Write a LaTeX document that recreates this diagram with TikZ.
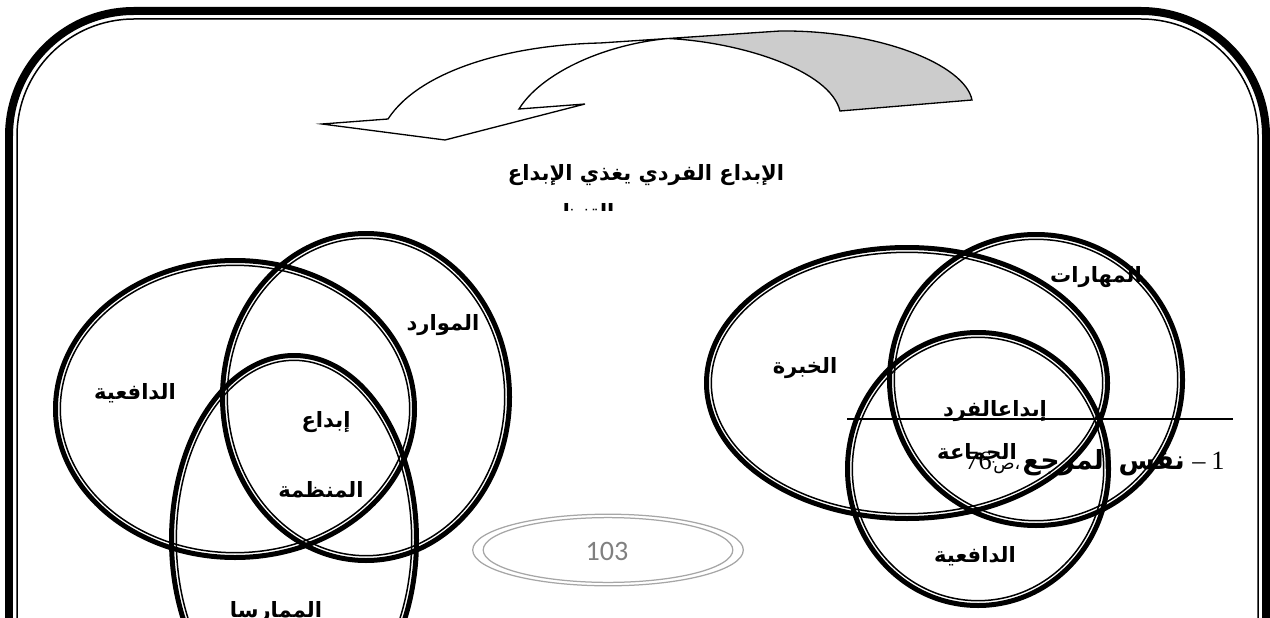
\documentclass[tikz,border=0pt]{standalone}
\usepackage{fontspec}
\setmainfont{Liberation Serif}
\newfontfamily\arabicfont[Script=Arabic]{DejaVu Sans}
\newfontfamily\pagefont{Carlito}
\TeXXeTstate=1
\usetikzlibrary{positioning}

\begin{document}
\begin{tikzpicture}[
    x=0.02cm, y=-0.02cm,
    framethick/.style={line width=0.16cm, rounded corners=2.5cm},
    framethin/.style={line width=0.03cm, rounded corners=2.34cm},
    ringthick/.style={line width=0.1cm},
    ringthin/.style={line width=0.03cm},
    pagering/.style={draw=black!35, line width=0.025cm},
    ribbon/.style={draw, line width=0.75pt, line join=miter},
    lbl/.style={font=\arabicfont\bfseries\fontsize{12}{14}\selectfont, inner sep=0pt}
]
    \useasboundingbox (0,0) rectangle (1270,618);
    \clip (0,0) rectangle (1270,618);

    % page frame
    \draw[framethick] (9,660) -- (9,11) -- (1266,11) -- (1266,660);
    \draw[framethin] (17,660) -- (17,19) -- (1258,19) -- (1258,660);

    % curved arrow
    \coordinate (peak) at (668,38.5);
    \draw[ribbon, fill=white] (peak) .. controls (600,45) and (540,75) .. (519,109)
        -- (585,104) -- (445,140) -- (322,124) -- (388,119)
        .. controls (420,70) and (510,45) .. (600,43) -- cycle;
    \draw[ribbon, fill=black!20] (peak) -- (780,31)
        .. controls (880,30) and (965,65) .. (972,100)
        -- (840,111) .. controls (830,70) and (740,42) .. (peak) -- cycle;

    \node[lbl] (title) at (646,175) {\beginR الإبداع الفردي يغذي الإبداع\endR};
    \begin{scope}
        \clip (520,200) rectangle (620,210.5);
        \node[lbl] (titletwo) at (566,214) {\beginR التنظيمي\endR};
    \end{scope}

    % left group
    \draw[ringthick] (235,409) ellipse [x radius=179.5, y radius=148.5];
    \draw[ringthin] (235,409) ellipse [x radius=174.7, y radius=143.7];
    \draw[ringthick] (366,397) ellipse [x radius=143.5, y radius=163.5];
    \draw[ringthin] (366,397) ellipse [x radius=138.7, y radius=158.7];
    \draw[ringthick] (294,540) ellipse [x radius=122.5, y radius=184.5];
    \draw[ringthin] (294,540) ellipse [x radius=117.7, y radius=179.7];

    \node[lbl] (motiv) at (135,393) {\beginR الدافعية\endR};
    \node[lbl] (resources) at (443,325) {\beginR الموارد\endR};
    \node[lbl] (orgtop) at (326,422) {\beginR إبداع\endR};
    \node[lbl] (orgbottom) at (321,490) {\beginR المنظمة\endR};
    \node[lbl] (practice) at (276,612) {\beginR الممارسا\endR};

    % right group
    \draw[ringthick] (907,383) ellipse [x radius=200.5, y radius=135.5];
    \draw[ringthin] (907,383) ellipse [x radius=195.7, y radius=130.7];
    \draw[ringthick] (1036,380) ellipse [x radius=146.5, y radius=145.5];
    \draw[ringthin] (1036,380) ellipse [x radius=141.7, y radius=140.7];
    \draw[ringthick] (978,469) ellipse [x radius=130.5, y radius=136.5];
    \draw[ringthin] (978,469) ellipse [x radius=125.7, y radius=131.7];

    \node[lbl] (skills) at (1096,277) {\beginR المهارات\endR};
    \node[lbl] (expert) at (805,368) {\beginR الخبرة\endR};
    \node[lbl] (grptop) at (995,411) {\beginR إبداعالفرد\endR};
    \node[lbl] (grpbottom) at (977,453) {\beginR الجماعة\endR};
    \node[lbl] (motivtwo) at (975,556) {\beginR الدافعية\endR};

    % footnote
    \coordinate (fnleft) at (847,419);
    \coordinate (fnright) at (1233,419);
    \draw[line width=0.03cm] (fnleft) -- (fnright);
    \node[anchor=east, inner sep=0pt, font=\fontsize{15}{17}\selectfont] (fnote) at (1225,463)
        {\beginR\beginL 1\endL\hspace{0.12cm}–\hspace{0.15cm}{\arabicfont\bfseries\fontsize{15}{17}\selectfont نفس\hspace{0.12cm}المرجع}\hspace{0.05cm}{\arabicfont\fontsize{10}{12}\selectfont ،ص}\hspace{0.03cm}\beginL 76\endL\endR};

    % page number
    \draw[pagering] (608,550) ellipse [x radius=135.3, y radius=35.8];
    \draw[pagering] (608,550) ellipse [x radius=124.8, y radius=32.4];
    \node[font=\pagefont\fontsize{16}{18}\selectfont, text=black!50] (pagenum) at (607,551) {103};
\end{tikzpicture}
\end{document}
